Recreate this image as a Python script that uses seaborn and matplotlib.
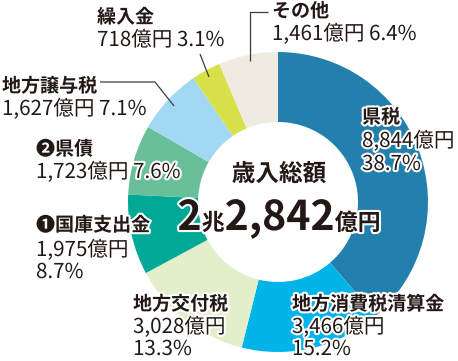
import matplotlib
matplotlib.use("Agg")
import matplotlib.pyplot as plt
import matplotlib.patheffects as pe
import seaborn as sns

# ---- data ----
categories = ["県税", "地方消費税清算金", "地方交付税", "❶国庫支出金", "❷県債", "地方譲与税", "繰入金", "その他"]
amounts = [8844, 3466, 3028, 1975, 1723, 1627, 718, 1461]          # 億円
amount_labels = ["8,844億円", "3,466億円", "3,028億円", "1,975億円", "1,723億円", "1,627億円", "718億円", "1,461億円"]
percent_labels = ["38.7%", "15.2%", "13.3%", "8.7%", "7.6%", "7.1%", "3.1%", "6.4%"]
colors = ["#2380ad", "#00b4ea", "#e3efca", "#00a996", "#68bf98", "#a2d8f3", "#d9e14a", "#f0ebe0"]
total_title = "歳入総額"
total_parts = [("2", "big"), ("兆", "small"), ("2,842", "big"), ("億円", "small")]

sns.set_theme(style="white")
plt.rcParams["font.family"] = ["Noto Sans CJK JP", "DejaVu Sans"]

W, H = 458, 361
fig = plt.figure(figsize=(W / 100, H / 100), dpi=100)
ax = fig.add_axes([0, 0, 1, 1])

CX, CY = 278, 202
ax.pie(amounts, colors=colors, startangle=90, counterclock=False,
       radius=150, center=(CX, H - CY),
       wedgeprops=dict(width=70, edgecolor="none", linewidth=0))
ax.set_xlim(0, W)
ax.set_ylim(0, H)
ax.set_aspect("auto")
ax.axis("off")

TXT = "#231815"
stroke = [pe.withStroke(linewidth=3, foreground="white")]

def put(x, y_px, s, size=13.7, bold=False, ha="left"):
    return ax.text(x, H - y_px, s, fontsize=size, color=TXT, ha=ha, va="baseline",
                   fontweight="bold" if bold else "normal", path_effects=stroke)

VAL = 14.8
layout = {
    "県税": (362, [123, 147, 170], "split"),
    "地方消費税清算金": (292, [310, 333, 355], "split"),
    "地方交付税": (133, [310, 333, 355], "split"),
    "❶国庫支出金": (36, [231, 256, 278], "split"),
    "❷県債": (36, [155, 178], "join"),
    "地方譲与税": (2, [92, 115], "join"),
    "繰入金": (97, [23, 46], "join"),
    "その他": (272, [17, 40], "join"),
}
for i, cat in enumerate(categories):
    x, ys, mode = layout[cat]
    put(x, ys[0], cat, bold=True)
    if mode == "split":
        put(x, ys[1], amount_labels[i], size=VAL)
        put(x, ys[2], percent_labels[i], size=VAL)
    else:
        put(x, ys[1], amount_labels[i] + " " + percent_labels[i], size=VAL)

# leader lines
lc = "#3c3c3c"
def line(pts):
    ax.plot([p[0] for p in pts], [H - p[1] for p in pts], color=lc, lw=0.9, solid_capstyle="butt")
line([(268, 12), (250, 12), (250, 61)])
line([(200, 54), (209, 77)])
line([(100, 82), (155, 82), (174, 106)])

# center text
put(279, 181, total_title, size=17, bold=True, ha="center")
fig.canvas.draw()
r = fig.canvas.get_renderer()
sizes = {"big": 29.5, "small": 16.5}
texts = []
for s, kind in total_parts:
    t = put(0, 230, s, size=sizes[kind], bold=True)
    texts.append(t)
widths = [t.get_window_extent(renderer=r).width for t in texts]
x0 = 279 - sum(widths) / 2
for t, w in zip(texts, widths):
    t.set_x(x0)
    x0 += w

fig.savefig("out.png", dpi=100)
